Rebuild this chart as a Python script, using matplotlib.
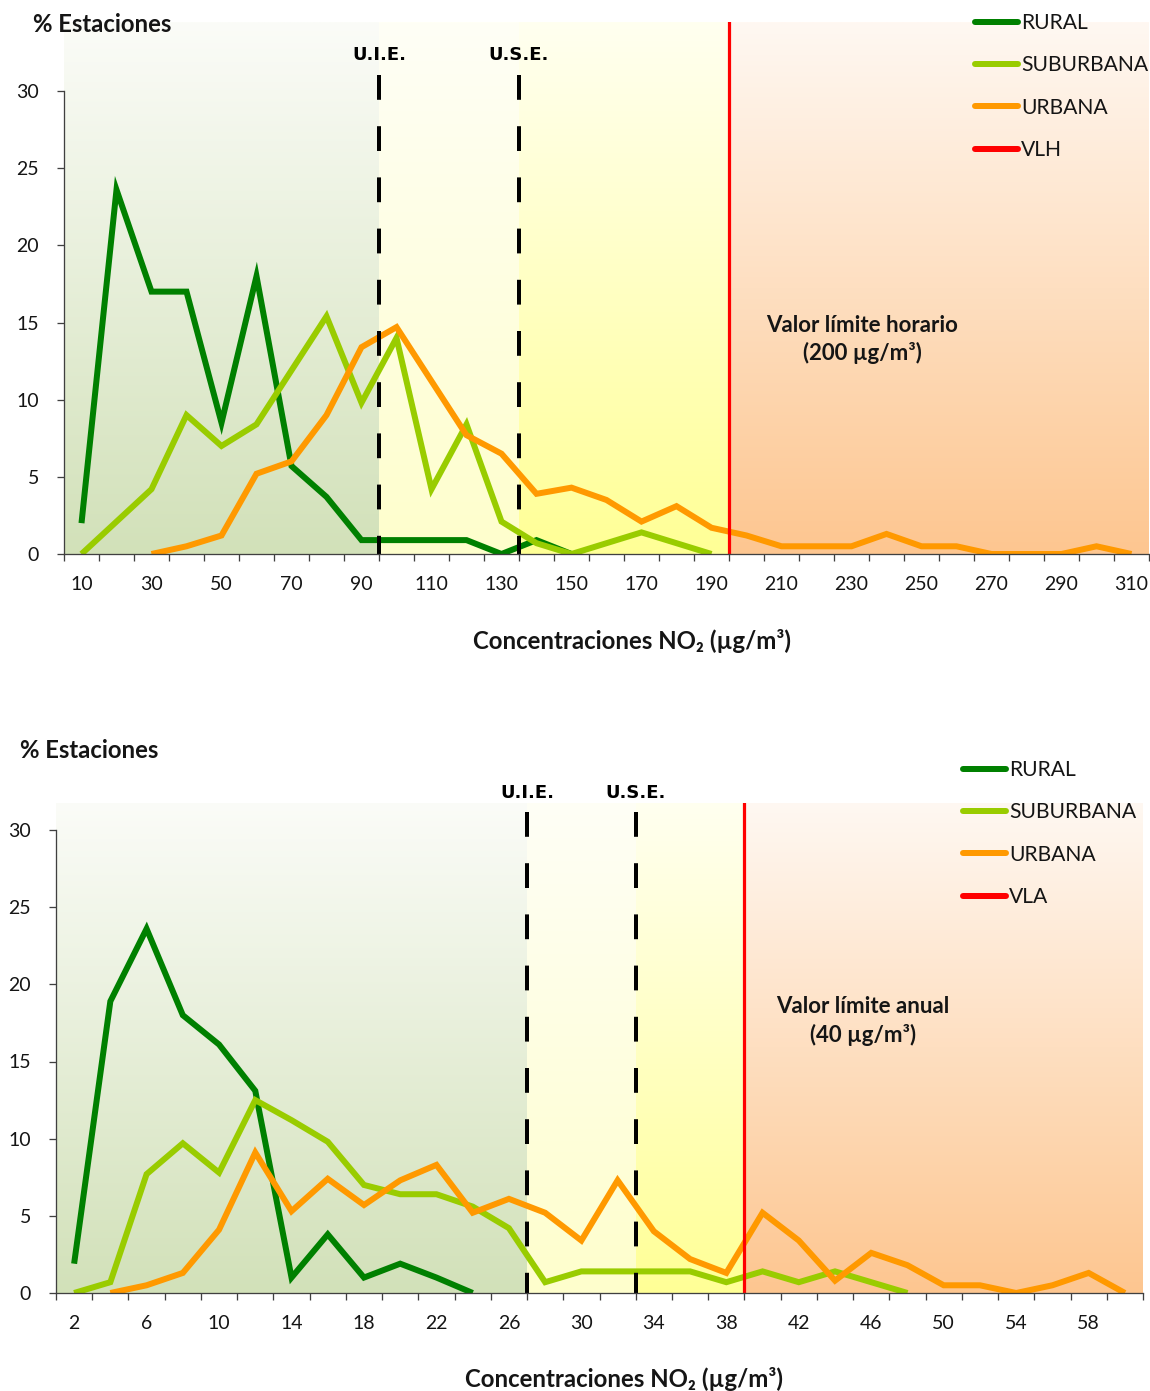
import numpy as np
import matplotlib
matplotlib.use("Agg")
import matplotlib.pyplot as plt
from matplotlib.colors import to_rgb
from matplotlib.lines import Line2D

plt.rcParams['font.family'] = ['Lato', 'DejaVu Sans']

# ---------------- data: hourly values (top panel) ----------------
hour_categories = [10, 20, 30, 40, 50, 60, 70, 80, 90, 100, 110, 120, 130, 140, 150,
                   160, 170, 180, 190, 200, 210, 220, 230, 240, 250, 260, 270, 280,
                   290, 300, 310]
hour_rural = [2.0, 23.6, 17.0, 17.0, 8.5, 18.0, 5.7, 3.7, 0.9, 0.9, 0.9, 0.9, 0.0, 0.9, 0.0,
              None, None, None, None, None, None, None, None, None, None, None, None, None,
              None, None, None]
hour_suburbana = [0.0, 2.1, 4.2, 9.0, 7.0, 8.4, 11.9, 15.4, 9.8, 14.0, 4.2, 8.4, 2.1, 0.7, 0.0,
                  0.7, 1.4, 0.7, 0.0, None, None, None, None, None, None, None, None, None,
                  None, None, None]
hour_urbana = [None, None, 0.0, 0.5, 1.2, 5.2, 6.0, 9.0, 13.4, 14.7, 11.2, 7.7, 6.5, 3.9, 4.3,
               3.5, 2.1, 3.1, 1.7, 1.2, 0.5, 0.5, 0.5, 1.3, 0.5, 0.5, 0.0, 0.0,
               0.0, 0.5, 0.0]
hour_tick_labels = ['10', '30', '50', '70', '90', '110', '130', '150', '170', '190',
                    '210', '230', '250', '270', '290', '310']
hour_uie_after = 90      # U.I.E. between 90 and 100
hour_use_after = 130     # U.S.E. between 130 and 140
hour_limit_after = 190   # VLH (200) between 190 and 200

# ---------------- data: annual values (bottom panel) ----------------
year_categories = [2, 4, 6, 8, 10, 12, 14, 16, 18, 20, 22, 24, 26, 28, 30,
                   32, 34, 36, 38, 40, 42, 44, 46, 48, 50, 52, 54, 56, 58, 60]
year_rural = [1.9, 18.9, 23.6, 18.0, 16.1, 13.1, 1.0, 3.8, 1.0, 1.9, 1.0, 0.0,
              None, None, None, None, None, None, None, None, None, None, None, None,
              None, None, None, None, None, None]
year_suburbana = [0.0, 0.7, 7.7, 9.7, 7.8, 12.5, 11.2, 9.8, 7.0, 6.4, 6.4, 5.6, 4.2, 0.7, 1.4,
                  1.4, 1.4, 1.4, 0.7, 1.4, 0.7, 1.4, 0.7, 0.0, None, None, None, None, None, None]
year_urbana = [None, 0.0, 0.5, 1.3, 4.1, 9.1, 5.3, 7.4, 5.7, 7.3, 8.3, 5.2, 6.1, 5.2, 3.4,
               7.3, 4.0, 2.2, 1.3, 5.2, 3.4, 0.8, 2.6, 1.8, 0.5, 0.5, 0.0, 0.5, 1.3, 0.0]
year_tick_labels = ['2', '6', '10', '14', '18', '22', '26', '30', '34', '38',
                    '42', '46', '50', '54', '58']
year_uie_after = 26
year_use_after = 32
year_limit_after = 38

y_ticks = [0, 5, 10, 15, 20, 25, 30]
series_names = ['RURAL', 'SUBURBANA', 'URBANA']

# ---------------- style ----------------
series_colors = ['#008000', '#99cc00', '#ff9900']
limit_color = '#ff0000'
zone_top = ['#fbfcf8', '#fffff6', '#fffff0', '#fff8f2']
zone_bottom = ['#d2e1b9', '#fefecc', '#ffff96', '#fdc690']
txt = '#151515'
axis_col = '#404040'
PX = 1 / 100 * 72  # one pixel in points

fig = plt.figure(figsize=(11.5, 13.91), dpi=100)
W, H = 1150, 1391


def add_axes(l, r, t, b):
    return fig.add_axes([l / W, 1 - b / H, (r - l) / W, (b - t) / H])


def panel(ax, cats, series, tick_labels, uie_after, use_after, lim_after,
          ytop, dash_top, lab_y, legend_labels, legend_anchor, note, note_xy):
    n = len(cats)
    xs = np.arange(n)
    idx = {c: i for i, c in enumerate(cats)}
    uie = idx[uie_after] + 0.5
    use = idx[use_after] + 0.5
    vl = idx[lim_after] + 0.5
    left, right = -0.5, n - 0.5

    # background gradient zones
    grad = np.linspace(0, 1, 256)[:, None, None]
    for (x0, x1), ct, cb in zip([(left, uie), (uie, use), (use, vl), (vl, right)],
                                zone_top, zone_bottom):
        img = (1 - grad) * np.array(to_rgb(ct)) + grad * np.array(to_rgb(cb))
        ax.imshow(img, extent=(x0, x1, 0, ytop), aspect='auto', origin='upper',
                  zorder=0, interpolation='bilinear')

    # series
    for vals, col in zip(series, series_colors):
        y = np.array([np.nan if v is None else v for v in vals], dtype=float)
        ax.plot(xs, y, color=col, lw=6 * PX, solid_joinstyle='miter',
                solid_capstyle='butt', zorder=3)

    # threshold lines
    for xv, lab in [(uie, 'U.I.E.'), (use, 'U.S.E.')]:
        ax.plot([xv, xv], [dash_top, 0], color='black', lw=4 * PX,
                dashes=(6.2, 6.6), zorder=4, clip_on=False)
        ax.text(xv, lab_y, lab, ha='center', va='center', fontsize=13,
                fontweight='bold', family=['DejaVu Sans'], color='black', clip_on=False)
    ax.axvline(vl, color=limit_color, lw=3.2 * PX, zorder=4)

    ax.text(note_xy[0], note_xy[1], note, ha='center', va='center', fontsize=16,
            fontweight='bold', color=txt, linespacing=1.35, zorder=5)

    ax.set_xlim(left, right)
    ax.set_ylim(0, ytop)
    ax.set_yticks(y_ticks)
    ax.set_yticklabels([str(v) for v in y_ticks])
    ax.set_xticks(np.arange(n + 1) - 0.5)
    ax.set_xticklabels([])
    ax.set_xticks(xs[::2], minor=True)
    ax.set_xticklabels(tick_labels, minor=True)
    ax.tick_params(axis='x', which='major', direction='out', length=7 * PX,
                   width=1.3 * PX, color=axis_col)
    ax.tick_params(axis='x', which='minor', length=0, pad=16, labelsize=14,
                   labelcolor=txt)
    ax.tick_params(axis='y', direction='out', length=7 * PX, width=1.3 * PX,
                   color=axis_col, pad=13, labelsize=14, labelcolor=txt)
    for s in ['top', 'right']:
        ax.spines[s].set_visible(False)
    ax.spines['left'].set_bounds(0, 30)
    for s in ['left', 'bottom']:
        ax.spines[s].set_color(axis_col)
        ax.spines[s].set_linewidth(1.3 * PX)
        ax.spines[s].set_zorder(5)

    handles = [Line2D([], [], color=c, lw=6 * PX, solid_capstyle='round')
               for c in series_colors + [limit_color]]
    leg = ax.legend(handles, legend_labels, loc='upper left',
                    bbox_to_anchor=(legend_anchor[0] / W, 1 - legend_anchor[1] / H),
                    bbox_transform=fig.transFigure, frameon=False, fontsize=15.2,
                    handlelength=2.05, handletextpad=0.12, labelspacing=1.06,
                    borderpad=0, borderaxespad=0)
    for t in leg.get_texts():
        t.set_color(txt)
    leg.set_zorder(6)


PXU = (554 - 91) / 30.0  # pixels per percentage unit

# top panel
ax1 = add_axes(64, 1149, 22, 554)
panel(ax1, hour_categories, [hour_rural, hour_suburbana, hour_urbana], hour_tick_labels,
      hour_uie_after, hour_use_after, hour_limit_after,
      ytop=(554 - 22) / PXU, dash_top=(554 - 75) / PXU, lab_y=(554 - 55) / PXU,
      legend_labels=series_names + ['VLH'], legend_anchor=(975, 13),
      note='Valor límite horario\n(200 µg/m³)', note_xy=(22.3, (554 - 339.5) / PXU))

# bottom panel
ax2 = add_axes(56, 1143, 803, 1293)
panel(ax2, year_categories, [year_rural, year_suburbana, year_urbana], year_tick_labels,
      year_uie_after, year_use_after, year_limit_after,
      ytop=(1293 - 803) / PXU, dash_top=(1293 - 812) / PXU, lab_y=(1293 - 793) / PXU,
      legend_labels=series_names + ['VLA'], legend_anchor=(963, 760),
      note='Valor límite anual\n(40 µg/m³)', note_xy=(21.77, (1293 - 1021) / PXU))

# titles / axis labels
fig.text(33 / W, 1 - 24 / H, '% Estaciones', ha='left', va='center', fontsize=17.2,
         fontweight='bold', color=txt)
fig.text(20 / W, 1 - 750 / H, '% Estaciones', ha='left', va='center', fontsize=17.2,
         fontweight='bold', color=txt)
fig.text(632 / W, 1 - 641 / H, 'Concentraciones NO₂ (µg/m³)', ha='center', va='center',
         fontsize=17.3, fontweight='bold', color=txt)
fig.text(624 / W, 1 - 1379 / H, 'Concentraciones NO₂ (µg/m³)', ha='center', va='center',
         fontsize=17.3, fontweight='bold', color=txt)

fig.savefig('out.png', dpi=100, facecolor='white')
